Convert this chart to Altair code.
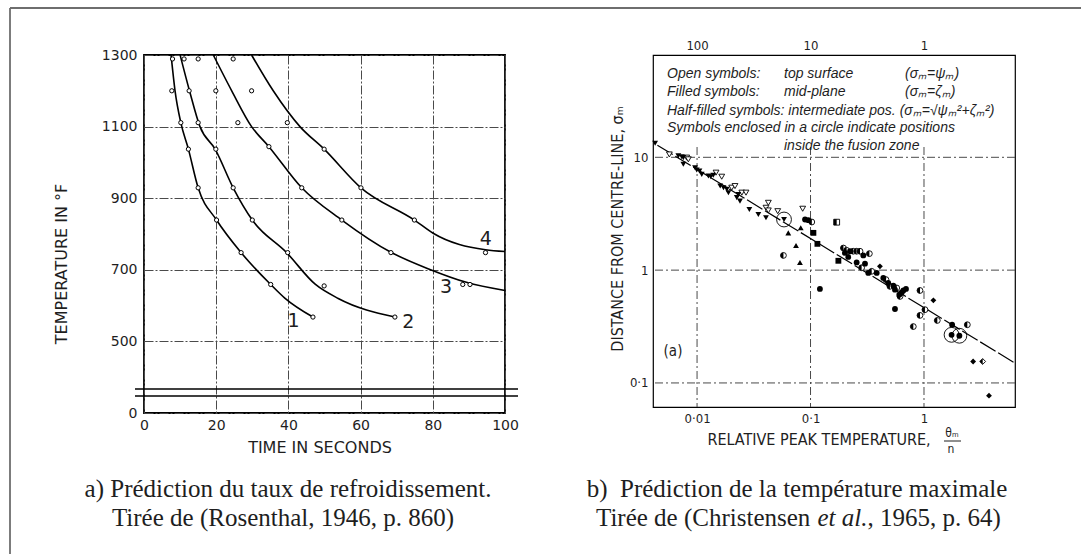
import altair as alt
import pandas as pd

# ---------------- (a) Rosenthal 1946 : cooling curves ----------------
a_time = [7.9, 11.1, 15.0, 24.7,
          7.7, 12.5, 19.9, 29.8,
          10.2, 15.0, 26.0, 39.7,
          12.3, 19.9, 34.6, 49.9,
          15.0, 24.7, 43.7, 60.1,
          20.1, 30.0, 54.8, 74.9,
          26.9, 39.8, 68.4, 94.6,
          35.1, 49.9, 88.3, 90.3,
          46.8, 69.5]
a_temp = [1289, 1289, 1289, 1289,
          1200, 1200, 1200, 1200,
          1111, 1111, 1111, 1111,
          1037, 1037, 1044, 1037,
          929, 929, 929, 929,
          839, 839, 839, 839,
          748, 748, 748, 748,
          659, 655, 659, 659,
          568, 568]

c1_time = [7.5, 8.6, 10.2, 12.3, 15.0, 20.1, 26.9, 35.1, 39.0, 46.8]
c1_temp = [1300, 1200, 1111, 1037, 929, 839, 748, 659, 621, 568]
c2_time = [10.0, 12.6, 15.5, 19.7, 24.7, 30.0, 39.5, 47.5, 53.8, 69.5]
c2_temp = [1300, 1200, 1100, 1037, 929, 839, 748, 659, 620, 568]
c3_time = [19.2, 24.3, 29.8, 34.6, 43.7, 54.8, 68.4, 79.2, 89.3, 100.0]
c3_temp = [1300, 1200, 1100, 1044, 929, 839, 749, 701, 665, 642]
c4_time = [29.8, 35.8, 43.2, 49.9, 60.1, 74.9, 80.1, 94.6, 100.0]
c4_temp = [1300, 1200, 1100, 1037, 929, 839, 802, 756, 751]

curve_names = ["1", "2", "3", "4"]
curve_lab_time = [41.4, 73.2, 83.7, 94.7]
curve_lab_temp = [558, 555, 652, 786]

a_xticks = [0, 20, 40, 60, 80, 100]
a_yticks = [300, 500, 700, 900, 1100, 1300]

# ---------------- (b) Christensen et al. 1965 : peak temperature ----------------
b_x = [0.00427, 0.00570, 0.00684, 0.00733, 0.00757, 0.00757, 0.00811, 0.00838, 0.00960, 0.00994,
       0.0105, 0.0110, 0.0126, 0.0132, 0.0139, 0.0147, 0.0165, 0.0160, 0.0171, 0.0183,
       0.0189, 0.0202, 0.0216, 0.0224, 0.0239, 0.0231, 0.0248, 0.0270, 0.0289, 0.0347,
       0.0405, 0.0425, 0.0405, 0.0425, 0.0514, 0.0584, 0.0853, 0.0637, 0.0745, 0.0807,
       0.0820, 0.0577, 0.0895, 0.0957, 0.1026, 0.106, 0.115, 0.176, 0.170, 0.121,
       0.195, 0.208, 0.223, 0.238, 0.255, 0.273, 0.292, 0.330, 0.201, 0.215,
       0.255, 0.282, 0.302, 0.323, 0.346, 0.383, 0.409, 0.438, 0.462, 0.484,
       0.501, 0.537, 0.555, 0.575, 0.606, 0.636, 0.615, 0.658, 0.694, 0.555,
       0.922, 1.21, 1.02, 0.922, 0.805, 1.31, 1.77, 1.75, 2.05, 2.41,
       2.71, 3.29, 3.74]
b_y = [13.3, 10.6, 10.3, 10.1, 9.94, 8.67, 9.94, 9.60, 8.09, 7.71,
       7.55, 7.06, 6.82, 6.73, 6.92, 7.31, 6.73, 5.56, 5.38, 5.20,
       4.86, 5.38, 5.56, 4.39, 4.09, 4.69, 4.86, 4.86, 3.45, 3.11,
       2.91, 3.95, 3.57, 3.38, 3.33, 2.81, 3.50, 2.14, 1.65, 1.17,
       2.37, 1.35, 2.81, 2.77, 2.67, 2.14, 1.71, 1.21, 2.66, 0.681,
       1.57, 1.50, 1.47, 1.47, 1.47, 1.47, 1.35, 1.40, 1.42, 1.31,
       1.17, 1.05, 1.14, 0.944, 0.976, 0.944, 1.08, 0.853, 0.824, 0.769,
       0.718, 0.728, 0.671, 0.695, 0.605, 0.635, 0.585, 0.660, 0.681, 0.452,
       0.660, 0.540, 0.446, 0.397, 0.316, 0.358, 0.328, 0.267, 0.262, 0.328,
       0.155, 0.155, 0.0771]
b_shape = ["tri_down", "tri_down", "tri_down", "tri_down", "tri_down", "tri_down", "tri_down", "tri_down", "tri_down", "tri_down",
           "tri_down", "tri_down", "tri_down", "tri_down", "tri_down", "tri_down", "tri_down", "tri_down", "tri_down", "tri_down",
           "tri_down", "tri_down", "tri_down", "tri_down", "tri_down", "tri_down", "tri_down", "tri_down", "tri_down", "tri_down",
           "tri_down", "tri_down", "tri_down", "tri_down", "tri_down", "tri_down", "tri_down", "tri_up", "tri_up", "tri_up",
           "tri_up", "circle", "circle", "circle", "circle", "square", "square", "square", "square", "circle",
           "circle", "circle", "circle", "circle", "circle", "circle", "circle", "circle", "circle", "circle",
           "circle", "circle", "circle", "circle", "circle", "circle", "diamond", "circle", "circle", "circle",
           "circle", "circle", "circle", "circle", "circle", "circle", "circle", "circle", "circle", "circle",
           "circle", "diamond", "circle", "circle", "circle", "circle", "circle", "circle", "circle", "circle",
           "diamond", "diamond", "diamond"]
b_fill = ["f", "o", "f", "f", "f", "f", "o", "o", "f", "f",
          "f", "f", "f", "f", "f", "o", "o", "f", "f", "f",
          "f", "o", "o", "f", "f", "f", "o", "o", "f", "f",
          "f", "o", "o", "o", "o", "f", "o", "f", "f", "f",
          "f", "h", "f", "f", "h", "f", "f", "f", "h", "f",
          "h", "h", "f", "h", "h", "h", "f", "h", "f", "f",
          "f", "h", "f", "f", "h", "f", "f", "f", "h", "f",
          "h", "f", "f", "h", "f", "f", "h", "f", "f", "f",
          "h", "f", "h", "h", "h", "h", "f", "f", "f", "h",
          "f", "h", "f"]
b_ring_index = [35, 87, 88]          # points enclosed in a circle (0-based)

b_line_x = [0.00447, 6.34]
b_line_y = [12.8, 0.150]

b_xticks = [0.01, 0.1, 1]
b_yticks = [0.1, 1, 10]

# ---------------- styling ----------------
INK = "#1e1e1e"
FRAME = "#6e6e6e"
SANS_A = "DejaVu Sans"
SANS_B = "DejaVu Sans Condensed, Liberation Sans Narrow, Liberation Sans, sans-serif"
ITAL = "Liberation Sans"
SERIF = "Liberation Serif"

ONE = pd.DataFrame({"k": [0]})


def label(s, x, y, size, font, align="center", baseline="middle", angle=0, style="normal"):
    return alt.Chart(pd.DataFrame({"s": [s]})).mark_text(
        align=align, baseline=baseline, fontSize=size, font=font,
        angle=angle, fontStyle=style, color=INK
    ).encode(text="s:N", x=alt.value(x), y=alt.value(y))


def hline(x1, x2, y, color, width):
    return alt.Chart(ONE).mark_rule(color=color, strokeWidth=width).encode(
        x=alt.value(x1), x2=alt.value(x2), y=alt.value(y))


def vline(x, y1, y2, color, width):
    return alt.Chart(ONE).mark_rule(color=color, strokeWidth=width).encode(
        x=alt.value(x), y=alt.value(y1), y2=alt.value(y2))


# ================= panel (a) =================
WA, HA = 361, 358
xa = alt.Scale(domain=[0, 100], nice=False, zero=False)
ya = alt.Scale(domain=[300, 1300], nice=False, zero=False)

a_pts = pd.DataFrame({"time": a_time, "temp": a_temp})
curve_df = pd.concat([
    pd.DataFrame({"time": c1_time, "temp": c1_temp, "curve": "1"}),
    pd.DataFrame({"time": c2_time, "temp": c2_temp, "curve": "2"}),
    pd.DataFrame({"time": c3_time, "temp": c3_temp, "curve": "3"}),
    pd.DataFrame({"time": c4_time, "temp": c4_temp, "curve": "4"}),
])
lab_df = pd.DataFrame({"time": curve_lab_time, "temp": curve_lab_temp, "name": curve_names})

grid_a = dict(grid=True, gridColor="#4a4a4a", gridDash=[9, 2, 2, 2], gridWidth=1,
              ticks=False, domain=False, title=None, labelFont=SANS_A, labelFontSize=14,
              labelColor=INK)
axis_ax = alt.Axis(values=a_xticks, orient="bottom", labelPadding=5, labelFlush=False, **grid_a)
axis_ay = alt.Axis(values=a_yticks, orient="left", labelPadding=7,
                   labelExpr="datum.value == 300 ? '0' : '' + datum.value", **grid_a)

curves = alt.Chart(curve_df).mark_line(interpolate="monotone", color="black", strokeWidth=1.6).encode(
    x=alt.X("time:Q", scale=xa, axis=axis_ax),
    y=alt.Y("temp:Q", scale=ya, axis=axis_ay),
    detail="curve:N")
points_a = alt.Chart(a_pts).mark_point(shape="circle", size=18, filled=True, fill="white",
                                       stroke="black", strokeWidth=1, opacity=1).encode(
    x=alt.X("time:Q", scale=xa, axis=None),
    y=alt.Y("temp:Q", scale=ya, axis=None))
labels_a = alt.Chart(lab_df).mark_text(fontSize=19, font=SANS_A, color=INK).encode(
    x=alt.X("time:Q", scale=xa, axis=None),
    y=alt.Y("temp:Q", scale=ya, axis=None),
    text="name:N")

panel_a = alt.layer(
    curves, points_a, labels_a,
    hline(-9, 374, 334, "black", 1.4),
    hline(-9, 374, 341, "black", 1.4),
    hline(-134, 937, -47, FRAME, 1.8),
    vline(-134, -47, 499, FRAME, 1.8),
    label("TEMPERATURE IN °F", -82, 209, 16, SANS_A, angle=270),
    label("TIME IN SECONDS", 176, 393, 16, SANS_A),
    label("a) Prédiction du taux de refroidissement.", 144, 442, 25, SERIF, baseline="alphabetic"),
    label("Tirée de (Rosenthal, 1946, p. 860)", 139, 471, 25, SERIF, baseline="alphabetic"),
).resolve_axis(x="independent", y="independent").properties(
    width=WA, height=HA, view=alt.ViewBackground(stroke="black", strokeWidth=1.8))

# ================= panel (b) =================
WB, HB = 362, 352
xb = alt.Scale(type="log", domain=[0.00409, 6.34], nice=False)
yb = alt.Scale(type="log", domain=[0.0612, 80.7], nice=False)

b_df = pd.DataFrame({"x": b_x, "y": b_y, "shape": b_shape, "fill": b_fill})
b_df["ring"] = [1 if i in b_ring_index else 0 for i in range(len(b_df))]

lbl_b = dict(ticks=False, domain=False, grid=False, title=None, labelFont=SANS_B,
             labelFontSize=13, labelColor=INK, labelFlush=False)
axis_bx = alt.Axis(values=b_xticks, orient="bottom", labelPadding=5,
                   labelExpr="datum.value < 0.05 ? '0·01' : datum.value < 0.5 ? '0·1' : '1'", **lbl_b)
axis_bt = alt.Axis(values=b_xticks, orient="top", labelPadding=3,
                   labelExpr="datum.value < 0.05 ? '100' : datum.value < 0.5 ? '10' : '1'", **lbl_b)
axis_by = alt.Axis(values=b_yticks, orient="left", labelPadding=5,
                   labelExpr="datum.value < 0.5 ? '0·1' : datum.value < 5 ? '1' : '10'", **lbl_b)

GRID_DASH = [8, 3, 2, 3]
hgrid = alt.Chart(pd.DataFrame({"y": b_yticks})).mark_rule(
    color="#4a4a4a", strokeWidth=1, strokeDash=GRID_DASH).encode(
    y=alt.Y("y:Q", scale=yb, axis=None))
vgrid = alt.Chart(pd.DataFrame({"x": b_xticks})).mark_rule(
    color="#4a4a4a", strokeWidth=1, strokeDash=GRID_DASH).encode(
    x=alt.X("x:Q", scale=xb, axis=axis_bt), y=alt.value(92), y2=alt.value(HB))
trend = alt.Chart(pd.DataFrame({"x": b_line_x, "y": b_line_y})).mark_line(
    color="black", strokeWidth=1.2, strokeDash=[18, 3]).encode(
    x=alt.X("x:Q", scale=xb, axis=None), y=alt.Y("y:Q", scale=yb, axis=None))

shape_full = alt.Scale(domain=["tri_down", "tri_up", "circle", "square", "diamond"],
                       range=["triangle-down", "triangle-up", "circle", "square", "diamond"])
shape_half = alt.Scale(domain=["tri_down", "tri_up", "circle", "square", "diamond"],
                       range=["M0,-1L0,1L-1,-1Z", "M0,-1L-1,1L0,1Z", "M0,-1A1,1,0,0,0,0,1Z",
                              "M-1,-1L0,-1L0,1L-1,1Z", "M0,-1L-1,0L0,1Z"])

pts_open = alt.Chart(b_df).transform_filter("datum.fill != 'f'").mark_point(
    filled=True, fill="white", stroke="black", strokeWidth=0.9, opacity=1, size=34).encode(
    x=alt.X("x:Q", scale=xb, axis=None), y=alt.Y("y:Q", scale=yb, axis=None),
    shape=alt.Shape("shape:N", scale=shape_full, legend=None))
pts_half = alt.Chart(b_df).transform_filter("datum.fill == 'h'").mark_point(
    filled=True, color="black", opacity=1, size=34).encode(
    x=alt.X("x:Q", scale=xb, axis=None), y=alt.Y("y:Q", scale=yb, axis=None),
    shape=alt.Shape("shape:N", scale=shape_half, legend=None))
pts_fill = alt.Chart(b_df).transform_filter("datum.fill == 'f'").mark_point(
    filled=True, color="black", opacity=1, size=34).encode(
    x=alt.X("x:Q", scale=xb, axis=axis_bx), y=alt.Y("y:Q", scale=yb, axis=axis_by),
    shape=alt.Shape("shape:N", scale=shape_full, legend=None))
rings = alt.Chart(b_df).transform_filter("datum.ring == 1").mark_point(
    shape="circle", filled=False, color="black", strokeWidth=0.9, opacity=1, size=220).encode(
    x=alt.X("x:Q", scale=xb, axis=None), y=alt.Y("y:Q", scale=yb, axis=None))

LEG = 14
panel_b = alt.layer(
    hgrid, vgrid, trend, pts_open, pts_half, pts_fill, rings,
    label("Open symbols:", 14, 19, LEG, ITAL, align="left", style="italic"),
    label("top surface", 131, 19, LEG, ITAL, align="left", style="italic"),
    label("(σₘ=ψₘ)", 252, 19, LEG, ITAL, align="left", style="italic"),
    label("Filled symbols:", 14, 37, LEG, ITAL, align="left", style="italic"),
    label("mid-plane", 131, 37, LEG, ITAL, align="left", style="italic"),
    label("(σₘ=ζₘ)", 252, 37, LEG, ITAL, align="left", style="italic"),
    label("Half-filled symbols: intermediate pos. (σₘ=√ψₘ²+ζₘ²)", 14, 56, LEG, ITAL, align="left", style="italic"),
    label("Symbols enclosed in a circle indicate positions", 14, 73, LEG, ITAL, align="left", style="italic"),
    label("inside the fusion zone", 131, 91, LEG, ITAL, align="left", style="italic"),
    label("(a)", 20, 296, 15, SANS_B),
    label("DISTANCE FROM CENTRE-LINE, σₘ", -35, 174, 16, SANS_B, angle=270),
    label("RELATIVE PEAK TEMPERATURE,", 166, 385, 16, SANS_B),
    label("θₘ", 299, 378, 12, SANS_B),
    hline(291, 308, 386, INK, 1),
    label("n", 298, 394, 12, SANS_B),
    label("b)\u00a0 Prédiction de la température maximale", 144, 442, 25, SERIF, baseline="alphabetic"),
    label("Tirée de (Christensen ", -57, 471, 25, SERIF, align="left", baseline="alphabetic"),
    label("et al.", 164.5, 471, 25, SERIF, align="left", baseline="alphabetic", style="italic"),
    label(", 1965, p. 64)", 214.5, 471, 25, SERIF, align="left", baseline="alphabetic"),
).resolve_scale(shape="independent").resolve_axis(x="independent", y="independent").properties(
    width=WB, height=HB, view=alt.ViewBackground(stroke="black", strokeWidth=1.2))

chart = alt.hconcat(panel_a, panel_b, spacing=148, bounds="flush").properties(
    padding={"left": 8, "top": 6, "right": 0, "bottom": 0},
    background="white",
)

chart.save("out.html", embed_options={"renderer": "svg", "actions": False})
